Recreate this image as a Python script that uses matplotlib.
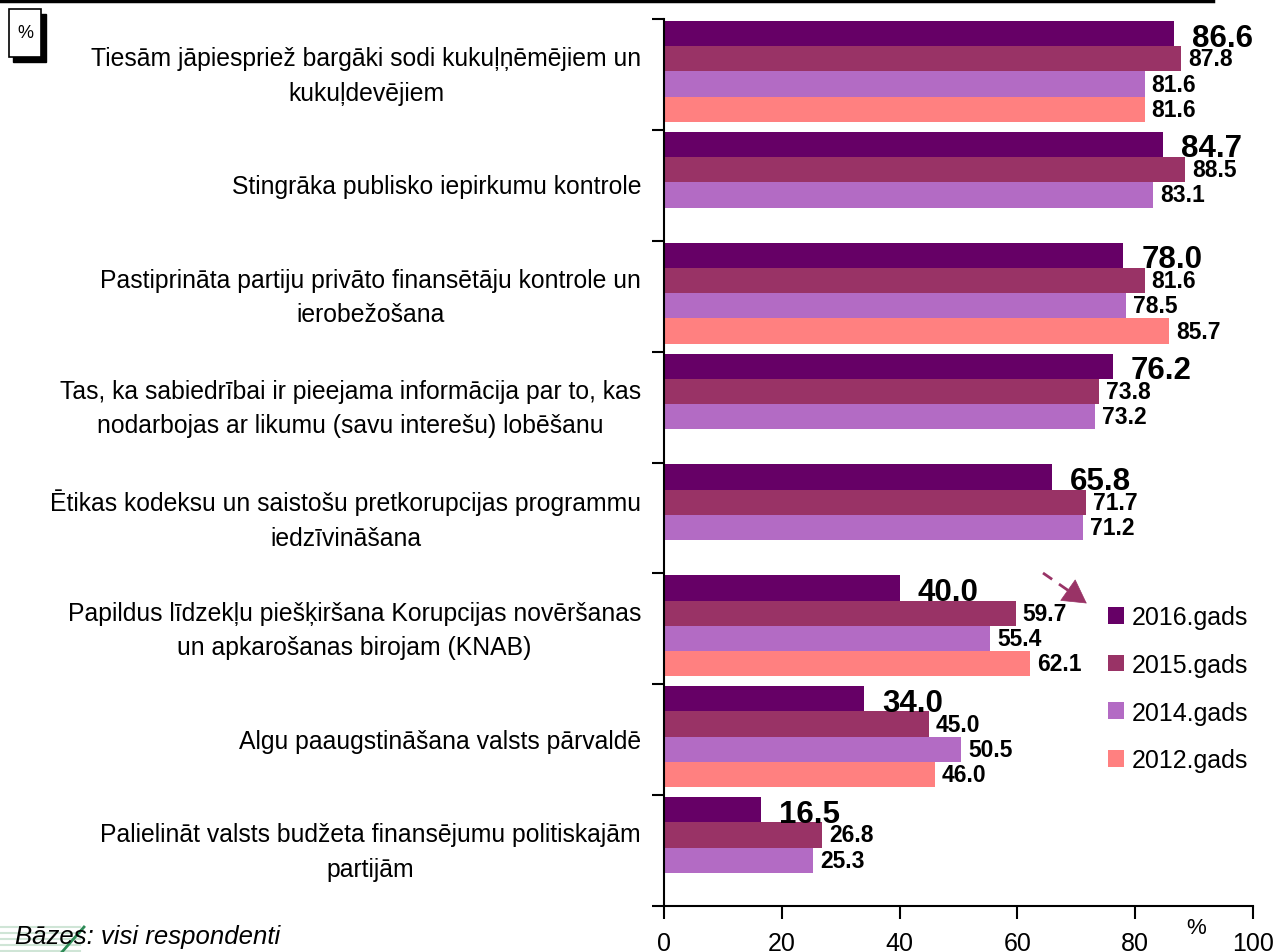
import matplotlib
matplotlib.use("Agg")
import matplotlib.pyplot as plt
from matplotlib.patches import Patch, Rectangle, FancyArrowPatch
import numpy as np

plt.rcParams['font.family'] = ['Liberation Sans', 'DejaVu Sans']

categories = [
    "Tiesām jāpiespriež bargāki sodi kukuļņēmējiem un\nkukuļdevējiem",
    "Stingrāka publisko iepirkumu kontrole",
    "Pastiprināta partiju privāto finansētāju kontrole un\nierobežošana",
    "Tas, ka sabiedrībai ir pieejama informācija par to, kas\nnodarbojas ar likumu (savu interešu) lobēšanu",
    "Ētikas kodeksu un saistošu pretkorupcijas programmu\niedzīvināšana",
    "Papildus līdzekļu piešķiršana Korupcijas novēršanas\nun apkarošanas birojam (KNAB)",
    "Algu paaugstināšana valsts pārvaldē",
    "Palielināt valsts budžeta finansējumu politiskajām\npartijām",
]
series_names = ["2016.gads", "2015.gads", "2014.gads", "2012.gads"]
v2016 = [86.6, 84.7, 78.0, 76.2, 65.8, 40.0, 34.0, 16.5]
v2015 = [87.8, 88.5, 81.6, 73.8, 71.7, 59.7, 45.0, 26.8]
v2014 = [81.6, 83.1, 78.5, 73.2, 71.2, 55.4, 50.5, 25.3]
v2012 = [81.6, None, 85.7, None, None, 62.1, 46.0, None]
colors = ["#660066", "#993366", "#B36BC4", "#FF8080"]
x_ticks = [0, 20, 40, 60, 80, 100]

W, H = 1276, 953
fig = plt.figure(figsize=(W / 100, H / 100), dpi=100)
ax = fig.add_axes([664 / W, 1 - 907 / H, (1253 - 664) / W, (907 - 20) / H])

slot = 25.3 / 111
shift = -3 / 111
y = np.arange(len(categories))
all_series = [v2016, v2015, v2014, v2012]
for k, vals in enumerate(all_series):
    off = (k - 1.5) * slot + shift
    for i, v in enumerate(vals):
        if v is None:
            continue
        ax.barh(y[i] + off, v, height=slot, color=colors[k], edgecolor='none')
        if k == 0:
            ax.annotate(f"{v:.1f}", (v, y[i] + off), xytext=(18, -4),
                        textcoords='offset pixels', ha='left', va='center',
                        fontsize=22.5, fontweight='bold', color='black')
        else:
            ax.annotate(f"{v:.1f}", (v, y[i] + off), xytext=(7, 0),
                        textcoords='offset pixels', ha='left', va='center',
                        fontsize=16.5, fontweight='bold', color='black')

ax.set_xlim(0, 100)
ax.set_ylim(len(categories) - 0.5, -0.5)
ax.set_yticks(np.arange(-0.5, len(categories), 1.0))
ax.set_yticklabels([])
ax.tick_params(axis='y', direction='out', length=9, width=1.5, color='black')
ax.set_xticks(x_ticks)
ax.set_xticklabels([str(t) for t in x_ticks])
ax.tick_params(axis='x', direction='out', length=9, width=1.5, labelsize=18, pad=9)
for s in ['top', 'right']:
    ax.spines[s].set_visible(False)
for s in ['left', 'bottom']:
    ax.spines[s].set_linewidth(1.5)

for i, lab in enumerate(categories):
    ax.annotate(lab, (0, y[i]), xytext=(-23, -1), textcoords='offset pixels',
                ha='right', va='center', multialignment='center',
                fontsize=17.8, linespacing=1.55, color='black')

# legend
handles = [Patch(facecolor=c, edgecolor='none') for c in colors]
fig.legend(handles, series_names, loc='upper left',
           bbox_to_anchor=(1098 / W, 1 - 596 / H), frameon=False,
           fontsize=18, handlelength=0.65, handleheight=0.65,
           handletextpad=0.3, labelspacing=0.95, borderaxespad=0)

# dashed arrow: dashed shaft + solid head
fig.add_artist(plt.Line2D([1043 / W, 1074 / W], [1 - 574 / H, 1 - 595.5 / H],
                          transform=fig.transFigure, color='#993366', lw=2,
                          linestyle=(0, (4, 3))))
head = FancyArrowPatch((1072, H - 594), (1089, H - 606), transform=None,
                       arrowstyle='-|>,head_length=16,head_width=9',
                       color='#993366', lw=0.5, mutation_scale=1)
fig.patches.append(head)

# "%" near axis
fig.text(1196 / W, 1 - 929 / H, "%", fontsize=16, ha='center', va='center')

# % box top left with shadow
fig.patches.append(Rectangle((13, H - 63), 33, 48, transform=None,
                             facecolor='black', edgecolor='black'))
fig.patches.append(Rectangle((9, H - 58), 32, 48, transform=None,
                             facecolor='white', edgecolor='black', lw=1.2))
fig.text(25 / W, 1 - 33 / H, "%", fontsize=13, ha='center', va='center')

# cropped title line on top
fig.add_artist(plt.Line2D([0, 1213 / W], [1 - 1.5 / H, 1 - 1.5 / H],
                          transform=fig.transFigure, color='black', lw=2.5))

# logo fragment bottom left
for yy in [928, 934, 940, 946, 952]:
    fig.add_artist(plt.Line2D([0, 80 / W], [1 - yy / H, 1 - yy / H],
                              transform=fig.transFigure, color='#cfe5d6', lw=1.5))
fig.add_artist(plt.Line2D([62 / W, 84 / W], [1 - 953 / H, 1 - 928 / H],
                          transform=fig.transFigure, color='#2e8b57', lw=2))

# footer
fig.text(15 / W, 1 - 937 / H, "Bāzes: visi respondenti", fontsize=18.5,
         style='italic', ha='left', va='center')

fig.savefig("out.png", dpi=100)
